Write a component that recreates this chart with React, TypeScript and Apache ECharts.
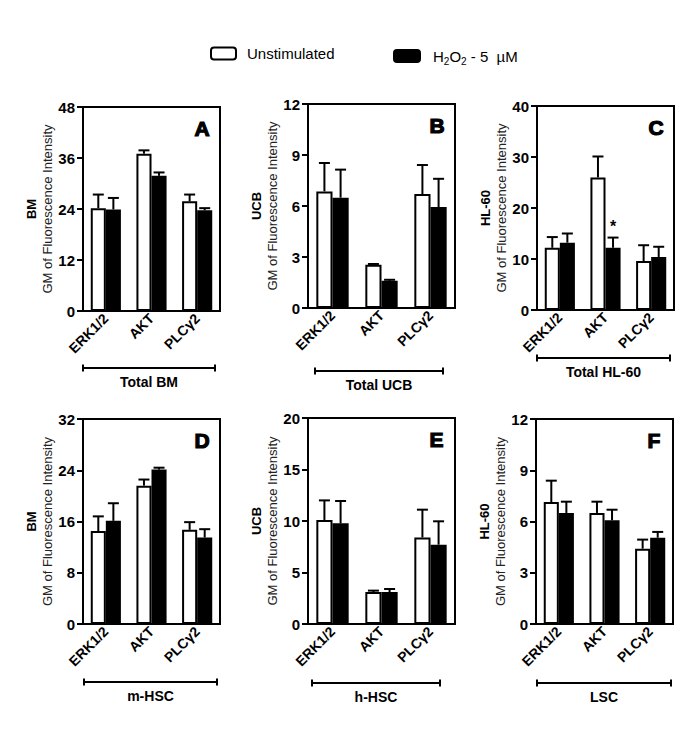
import React, { useEffect, useRef } from "react";
import * as echarts from "echarts";

// ---------- data ----------
const categories = ["ERK1/2", "AKT", "PLCγ2"];
const seriesNames = ["Unstimulated", "H2O2 - 5 µM"];

const panelLetters = ["A", "B", "C", "D", "E", "F"];
const cellNames = ["BM", "UCB", "HL-60", "BM", "UCB", "HL-60"];
const groupLabels = ["Total BM", "Total UCB", "Total HL-60", "m-HSC", "h-HSC", "LSC"];
const yMaxes = [48, 12, 40, 32, 20, 12];
const yIntervals = [12, 3, 10, 8, 5, 3];

const aUnstim = [24.2, 37.0, 25.8];
const aUnstimErr = [3.2, 0.8, 1.6];
const aH2O2 = [23.9, 31.8, 23.7];
const aH2O2Err = [2.7, 0.8, 0.5];

const bUnstim = [6.86, 2.55, 6.7];
const bUnstimErr = [1.67, 0.04, 1.71];
const bH2O2 = [6.49, 1.6, 5.94];
const bH2O2Err = [1.65, 0.06, 1.66];

const cUnstim = [12.2, 26.0, 9.6];
const cUnstimErr = [2.1, 4.1, 3.1];
const cH2O2 = [13.2, 12.2, 10.4];
const cH2O2Err = [1.8, 2.0, 2.0];

const dUnstim = [14.5, 21.6, 14.7];
const dUnstimErr = [2.3, 0.95, 1.2];
const dH2O2 = [16.1, 24.1, 13.5];
const dH2O2Err = [2.75, 0.3, 1.3];

const eUnstim = [10.1, 3.1, 8.4];
const eUnstimErr = [1.9, 0.14, 2.7];
const eH2O2 = [9.77, 3.1, 7.7];
const eH2O2Err = [2.17, 0.3, 2.27];

const fUnstim = [7.14, 6.5, 4.41];
const fUnstimErr = [1.25, 0.66, 0.53];
const fH2O2 = [6.5, 6.07, 5.05];
const fH2O2Err = [0.66, 0.62, 0.34];

const cSignificance = ["", "*", ""]; // marks on H2O2 bars in panel C

const panelValues = [
  [aUnstim, aUnstimErr, aH2O2, aH2O2Err],
  [bUnstim, bUnstimErr, bH2O2, bH2O2Err],
  [cUnstim, cUnstimErr, cH2O2, cH2O2Err],
  [dUnstim, dUnstimErr, dH2O2, dH2O2Err],
  [eUnstim, eUnstimErr, eH2O2, eH2O2Err],
  [fUnstim, fUnstimErr, fH2O2, fH2O2Err],
];
const panelSig = [null, null, cSignificance, null, null, null];

// ---------- layout ----------
const FONT = "'Liberation Sans', Arial, Helvetica, sans-serif";
const grids = [
  { left: 83, top: 107, width: 137, height: 204 },
  { left: 308, top: 104, width: 147, height: 204 },
  { left: 537, top: 106, width: 137, height: 204 },
  { left: 83, top: 419, width: 137, height: 205 },
  { left: 308, top: 418, width: 147, height: 206 },
  { left: 536, top: 419, width: 137, height: 205 },
];
const brackets = [
  { x1: 83, x2: 215, y: 368 },
  { x1: 315, x2: 443, y: 371 },
  { x1: 537, x2: 670, y: 358 },
  { x1: 84, x2: 217, y: 682 },
  { x1: 312, x2: 440, y: 683 },
  { x1: 537, x2: 671, y: 683 },
];
const BAR_FRAC = 0.33;

export default function App() {
  const ref = useRef<HTMLDivElement>(null);

  useEffect(() => {
    if (!ref.current) return;
    const chart = echarts.init(ref.current, undefined, { renderer: "svg" });

    const grid: any[] = [];
    const xAxis: any[] = [];
    const yAxis: any[] = [];
    const series: any[] = [];
    const graphic: any[] = [];

    grids.forEach((g, i) => {
      grid.push({ ...g, show: true, borderColor: "#000", borderWidth: 2, backgroundColor: "transparent" });
      xAxis.push({
        type: "category",
        gridIndex: i,
        data: categories,
        axisLine: { lineStyle: { color: "#000", width: 2 } },
        axisTick: { show: false },
        axisLabel: {
          rotate: 45,
          margin: 5,
          color: "#000",
          fontWeight: "bold",
          fontSize: 14,
          fontFamily: FONT,
          interval: 0,
        },
      });
      yAxis.push({
        type: "value",
        gridIndex: i,
        min: 0,
        max: yMaxes[i],
        interval: yIntervals[i],
        splitLine: { show: false },
        axisLine: { show: true, lineStyle: { color: "#000", width: 2 } },
        axisTick: { show: true, length: 6, lineStyle: { color: "#000", width: 2 } },
        axisLabel: { color: "#000", fontWeight: "bold", fontSize: 15, fontFamily: FONT, margin: 8 },
        name: `{t|${cellNames[i]}}\n{s|GM of Fluorescence Intensity}`,
        nameLocation: "middle",
        nameGap: 27,
        nameTextStyle: {
          color: "#000",
          fontFamily: FONT,
          rich: {
            t: { fontWeight: "bold", fontSize: 13, fontFamily: FONT, color: "#000", lineHeight: 16 },
            s: { fontSize: 13, fontFamily: FONT, color: "#222", lineHeight: 16 },
          },
        },
      });

      const [u, ue, h, he] = panelValues[i];
      series.push({
        name: seriesNames[0],
        type: "bar",
        xAxisIndex: i,
        yAxisIndex: i,
        data: u,
        barWidth: `${BAR_FRAC * 100}%`,
        barGap: "0%",
        itemStyle: { color: "#fff", borderColor: "#000", borderWidth: 2 },
        z: 2,
      });
      series.push({
        name: seriesNames[1],
        type: "bar",
        xAxisIndex: i,
        yAxisIndex: i,
        data: h,
        barWidth: `${BAR_FRAC * 100}%`,
        barGap: "0%",
        itemStyle: { color: "#000", borderColor: "#000", borderWidth: 2 },
        z: 2,
      });

      const sig = panelSig[i];
      const errData: any[] = [];
      categories.forEach((_, c) => {
        errData.push([c, u[c], ue[c], 0, ""]);
        errData.push([c, h[c], he[c], 1, sig ? sig[c] : ""]);
      });
      series.push({
        type: "custom",
        xAxisIndex: i,
        yAxisIndex: i,
        z: 3,
        silent: true,
        data: errData,
        renderItem: (params: any, api: any) => {
          const c = api.value(0);
          const mean = api.value(1);
          const err = api.value(2);
          const grp = api.value(3);
          const mark = errData[params.dataIndex][4];
          const band = api.size([1, 0])[0];
          const bw = band * BAR_FRAC;
          const base = api.coord([c, mean]);
          const top = api.coord([c, mean + err]);
          const cx = base[0] + (grp === 0 ? -bw / 2 : bw / 2);
          const cap = 11;
          const children: any[] = [
            { type: "line", shape: { x1: cx, y1: base[1], x2: cx, y2: top[1] }, style: { stroke: "#000", lineWidth: 2 } },
            { type: "line", shape: { x1: cx - cap / 2, y1: top[1], x2: cx + cap / 2, y2: top[1] }, style: { stroke: "#000", lineWidth: 2 } },
          ];
          if (mark) {
            children.push({
              type: "text",
              style: {
                text: mark,
                x: cx,
                y: top[1] - 3,
                align: "center",
                verticalAlign: "bottom",
                fontSize: 16,
                fontWeight: "bold",
                fontFamily: FONT,
                fill: "#000",
              },
            });
          }
          return { type: "group", children };
        },
      });

      // panel letter
      graphic.push({
        type: "text",
        left: g.left + g.width - 26,
        top: g.top + 10,
        style: {
          text: panelLetters[i],
          fontSize: 21,
          fontWeight: 900,
          fontFamily: FONT,
          fill: "#000",
          stroke: "#000",
          lineWidth: 1.2,
        },
      });

      // group bracket
      const b = brackets[i];
      graphic.push({
        type: "group",
        children: [
          { type: "line", shape: { x1: b.x1, y1: b.y, x2: b.x2, y2: b.y }, style: { stroke: "#000", lineWidth: 2 } },
          { type: "line", shape: { x1: b.x1, y1: b.y - 3.5, x2: b.x1, y2: b.y + 3.5 }, style: { stroke: "#000", lineWidth: 2 } },
          { type: "line", shape: { x1: b.x2, y1: b.y - 3.5, x2: b.x2, y2: b.y + 3.5 }, style: { stroke: "#000", lineWidth: 2 } },
          {
            type: "text",
            style: {
              text: groupLabels[i],
              x: (b.x1 + b.x2) / 2,
              y: b.y + 14,
              align: "center",
              verticalAlign: "middle",
              fontSize: 14,
              fontWeight: "bold",
              fontFamily: FONT,
              fill: "#000",
            },
          },
        ],
      });
    });

    chart.setOption({
      animation: false,
      backgroundColor: "#fff",
      textStyle: { fontFamily: FONT },
      legend: [
        {
          data: [seriesNames[0]],
          left: 210,
          top: 46,
          padding: 0,
          itemWidth: 25,
          itemHeight: 12,
          icon: "roundRect",
          itemStyle: { color: "#fff", borderColor: "#000", borderWidth: 2 },
          selectedMode: false,
          formatter: (n: string) => `{n|${n}}`,
          textStyle: {
            color: "#000",
            rich: { n: { fontSize: 15, fontFamily: FONT, color: "#000", padding: [0, 0, 0, 6] } },
          },
        },
        {
          data: [seriesNames[1]],
          left: 393,
          top: 46,
          padding: 0,
          itemWidth: 26,
          itemHeight: 12,
          icon: "roundRect",
          selectedMode: false,
          formatter: () => `{h|H}{s|2}{n|O}{s|2}{n| - 5  µM}`,
          textStyle: {
            color: "#000",
            rich: {
              h: { fontSize: 15, fontFamily: FONT, color: "#000", lineHeight: 20, verticalAlign: "middle", padding: [0, 0, 0, 8] },
              n: { fontSize: 15, fontFamily: FONT, color: "#000", lineHeight: 20, verticalAlign: "middle" },
              s: { fontSize: 10, fontFamily: FONT, color: "#000", lineHeight: 20, verticalAlign: "bottom", padding: [10, 0, 0, 0] },
            },
          },
        },
      ],
      grid,
      xAxis,
      yAxis,
      series,
      graphic,
    });

    return () => chart.dispose();
  }, []);

  return (
    <div
      ref={ref}
      style={{ position: "fixed", left: 0, top: 0, width: 685, height: 734, background: "#fff" }}
    />
  );
}
